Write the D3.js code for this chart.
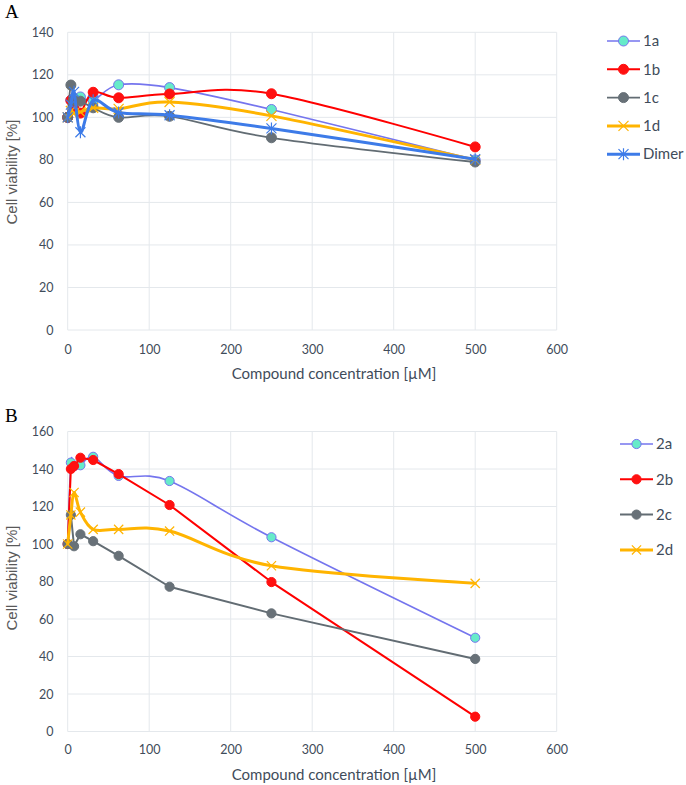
<!DOCTYPE html>
<html>
<head>
<meta charset="utf-8">
<script src="https://cdn.jsdelivr.net/npm/d3@7"></script>
<style>
  html, body { margin: 0; padding: 0; background: #ffffff; }
  svg { display: block; }
</style>
</head>
<body>
<svg id="chart" width="686" height="785"></svg>
<script>
// ---------------- DATA ----------------
const concentrations = [0, 3.9, 7.8, 15.6, 31.25, 62.5, 125, 250, 500];

const seriesNamesA = ["1a", "1b", "1c", "1d", "Dimer"];
const values1a    = [100, 108, 109, 109.6, 108, 115.3, 114, 103.7, 80];
const values1b    = [100, 108, 104, 102, 111.8, 109.2, 111, 111.1, 86.1];
const values1c    = [100, 115.2, 108, 107.6, 104.5, 100, 100.5, 90.4, 79];
const values1d    = [100, 103, 102, 102.5, 104.5, 104, 107.2, 100.7, 80];
const valuesDimer = [100, 106, 112, 93, 108, 102.3, 101, 94.8, 80.3];

const seriesNamesB = ["2a", "2b", "2c", "2d"];
const values2a = [100, 143.4, 141.5, 142, 146.5, 136.3, 133.6, 103.6, 50];
const values2b = [100, 140, 141.6, 146, 144.8, 137.3, 120.8, 79.7, 7.9];
const values2c = [100, 115.5, 98.8, 105.2, 101.5, 93.7, 77.2, 63, 38.7];
const values2d = [100, 115.5, 127.5, 117, 107.8, 107.8, 106.9, 88.4, 79];

const xTicks = [0, 100, 200, 300, 400, 500, 600];
const yTicksA = [0, 20, 40, 60, 80, 100, 120, 140];
const yTicksB = [0, 20, 40, 60, 80, 100, 120, 140, 160];

const xTitle = "Compound concentration [µM]";
const yTitle = "Cell viability [%]";

// ---------------- STYLES ----------------
const styles = {
  "1a":    {stroke: "#7575ee", width: 1.6, marker: "circle", fill: "#66ebc9", mstroke: "#7575ee", curve: "smooth"},
  "1b":    {stroke: "#ff0000", width: 2,   marker: "circle", fill: "#ff1010", mstroke: "#ff1010", curve: "smooth"},
  "1c":    {stroke: "#626c73", width: 1.8, marker: "circle", fill: "#687178", mstroke: "#687178", curve: "smooth"},
  "1d":    {stroke: "#ffb400", width: 3,   marker: "x",      fill: "none",    mstroke: "#ffb400", curve: "smooth"},
  "Dimer": {stroke: "#3d7be8", width: 3,   marker: "star",   fill: "none",    mstroke: "#3d7be8", curve: "smooth"},
  "2a":    {stroke: "#7575ee", width: 1.6, marker: "circle", fill: "#66ebc9", mstroke: "#7575ee", curve: "smooth"},
  "2b":    {stroke: "#ff0000", width: 2,   marker: "circle", fill: "#ff1010", mstroke: "#ff1010", curve: "linear"},
  "2c":    {stroke: "#626c73", width: 2,   marker: "circle", fill: "#687178", mstroke: "#687178", curve: "linear"},
  "2d":    {stroke: "#ffb400", width: 3,   marker: "x",      fill: "none",    mstroke: "#ffb400", curve: "smooth"}
};

const textColor = "#3f4c5a";
const gridColor = "#e4e8ec";
const uiFont = "Lato, 'Open Sans', sans-serif";

const svg = d3.select("#chart");

function drawMarker(g, type, cx, cy, st, r) {
  if (type === "circle") {
    g.append("circle").attr("cx", cx).attr("cy", cy).attr("r", r)
      .attr("fill", st.fill).attr("stroke", st.mstroke).attr("stroke-width", 1);
  } else {
    const s = r;
    const p = d3.path();
    p.moveTo(cx - s, cy - s); p.lineTo(cx + s, cy + s);
    p.moveTo(cx - s, cy + s); p.lineTo(cx + s, cy - s);
    if (type === "star") { p.moveTo(cx, cy - s * 1.2); p.lineTo(cx, cy + s * 1.2); }
    g.append("path").attr("d", p.toString()).attr("fill", "none")
      .attr("stroke", st.mstroke).attr("stroke-width", 1.2);
  }
}

function panel(cfg) {
  const x = d3.scaleLinear().domain([0, 600]).range([cfg.left, cfg.right]);
  const y = d3.scaleLinear().domain([0, cfg.ymax]).range([cfg.bottom, cfg.top]);
  const g = svg.append("g");

  // gridlines
  g.append("g").selectAll("line.h").data(cfg.yTicks).join("line")
    .attr("x1", cfg.left).attr("x2", cfg.right)
    .attr("y1", d => y(d)).attr("y2", d => y(d))
    .attr("stroke", gridColor).attr("stroke-width", 1);
  g.append("g").selectAll("line.v").data(xTicks).join("line")
    .attr("x1", d => x(d)).attr("x2", d => x(d))
    .attr("y1", cfg.top).attr("y2", cfg.bottom)
    .attr("stroke", gridColor).attr("stroke-width", 1);

  // axes (labels only, via d3 axes)
  const xAxis = d3.axisBottom(x).tickValues(xTicks).tickSize(0).tickPadding(0);
  const xg = g.append("g").attr("transform", `translate(0,${cfg.xLabelY})`).call(xAxis);
  xg.select(".domain").remove();
  xg.selectAll("text").attr("fill", textColor).style("font-family", uiFont)
    .style("font-size", "12.5px").attr("dy", "0.32em").attr("y", 0);

  const yAxis = d3.axisLeft(y).tickValues(cfg.yTicks).tickSize(0).tickPadding(0);
  const yg = g.append("g").attr("transform", `translate(${cfg.yLabelX},0)`).call(yAxis);
  yg.select(".domain").remove();
  yg.selectAll("text").attr("fill", textColor).style("font-family", uiFont)
    .style("font-size", "12.5px").attr("x", 0);

  // axis titles
  g.append("text").attr("x", cfg.xTitleX).attr("y", cfg.xTitleY).attr("dy", "0.35em")
    .attr("text-anchor", "middle").attr("fill", textColor)
    .style("font-family", uiFont).style("font-size", "15px").text(xTitle);
  g.append("text").attr("transform", `translate(${cfg.yTitleX},${cfg.yTitleY}) rotate(-90)`)
    .attr("dy", "0.35em").attr("text-anchor", "middle").attr("fill", "#595959")
    .style("font-family", "'Liberation Sans', Arial, sans-serif").style("font-size", "15px").text(yTitle);

  // panel letter
  g.append("text").attr("x", 5).attr("y", cfg.letterY).attr("fill", "#000")
    .style("font-family", "'Liberation Serif', 'Times New Roman', serif")
    .style("font-size", "19px").text(cfg.letter);

  // series
  cfg.series.forEach((name, i) => {
    const st = styles[name];
    const vals = cfg.values[i];
    const pts = concentrations.map((c, j) => [c, vals[j]]);
    const line = d3.line().x(d => x(d[0])).y(d => y(d[1]))
      .curve(st.curve === "smooth" ? d3.curveCardinal.tension(0) : d3.curveLinear);
    const sg = g.append("g");
    sg.append("path").datum(pts).attr("d", line).attr("fill", "none")
      .attr("stroke", st.stroke).attr("stroke-width", st.width)
      .attr("stroke-linejoin", "round").attr("stroke-linecap", "round");
    pts.forEach(p => drawMarker(sg, st.marker, x(p[0]), y(p[1]), st, cfg.markerR));
  });

  // legend
  cfg.series.forEach((name, i) => {
    const st = styles[name];
    const ly = cfg.legendY + i * cfg.legendStep;
    const lg = g.append("g");
    lg.append("line").attr("x1", cfg.legendX).attr("x2", cfg.legendX + 33)
      .attr("y1", ly).attr("y2", ly).attr("stroke", st.stroke).attr("stroke-width", st.width);
    drawMarker(lg, st.marker, cfg.legendX + 16.5, ly, st, cfg.markerR);
    lg.append("text").attr("x", cfg.legendX + 36).attr("y", ly).attr("dy", "0.35em")
      .attr("fill", textColor).style("font-family", uiFont).style("font-size", "15px").text(name);
  });
}

panel({
  letter: "A", letterY: 18,
  left: 67.7, right: 556.7, top: 32.3, bottom: 330, ymax: 140, yTicks: yTicksA,
  xLabelY: 350, yLabelX: 53.5, xTitleX: 334, xTitleY: 374, yTitleX: 12, yTitleY: 172,
  series: seriesNamesA, values: [values1a, values1b, values1c, values1d, valuesDimer],
  markerR: 5, legendX: 607, legendY: 41, legendStep: 28.3
});

panel({
  letter: "B", letterY: 422,
  left: 67.7, right: 556.7, top: 431.5, bottom: 731.5, ymax: 160, yTicks: yTicksB,
  xLabelY: 750, yLabelX: 53.5, xTitleX: 334, xTitleY: 775, yTitleX: 12, yTitleY: 578,
  series: seriesNamesB, values: [values2a, values2b, values2c, values2d],
  markerR: 4.6, legendX: 620, legendY: 444, legendStep: 35.3
});
</script>
</body>
</html>
